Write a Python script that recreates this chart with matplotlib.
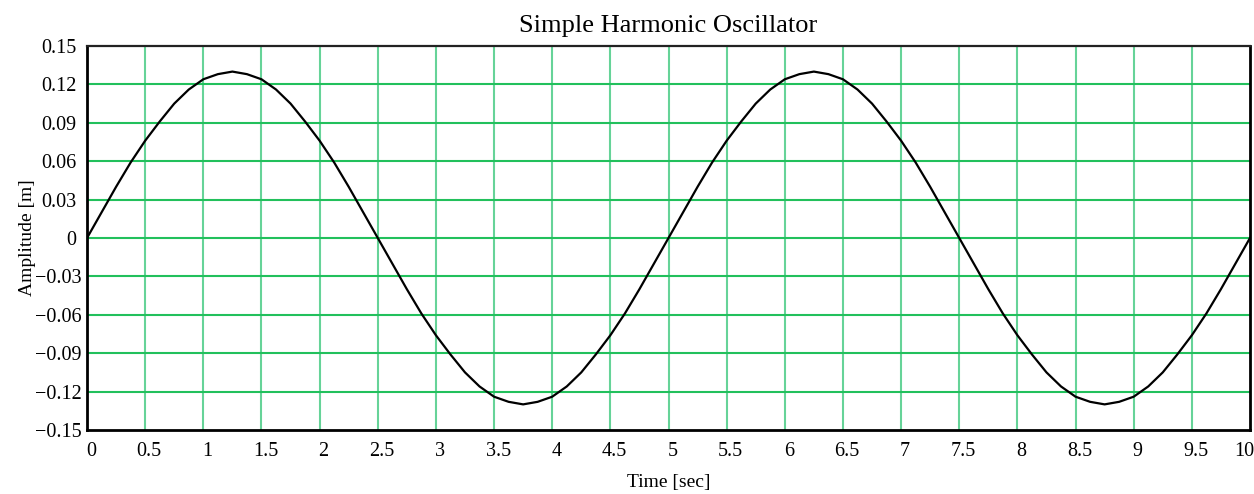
import matplotlib
matplotlib.use("Agg")
import matplotlib.pyplot as plt
import matplotlib.transforms as mtransforms
import numpy as np

# displacement every 0.125 s (0 .. 10 s)
time_s = np.linspace(0, 10, 81)
amplitude_m = [
    0.000, 0.020, 0.040, 0.059, 0.076, 0.091, 0.105, 0.116, 0.124, 0.128,
    0.130, 0.128, 0.124, 0.116, 0.105, 0.091, 0.076, 0.059, 0.040, 0.020,
    0.000, -0.020, -0.040, -0.059, -0.076, -0.091, -0.105, -0.116, -0.124, -0.128,
    -0.130, -0.128, -0.124, -0.116, -0.105, -0.091, -0.076, -0.059, -0.040, -0.020,
    0.000, 0.020, 0.040, 0.059, 0.076, 0.091, 0.105, 0.116, 0.124, 0.128,
    0.130, 0.128, 0.124, 0.116, 0.105, 0.091, 0.076, 0.059, 0.040, 0.020,
    0.000, -0.020, -0.040, -0.059, -0.076, -0.091, -0.105, -0.116, -0.124, -0.128,
    -0.130, -0.128, -0.124, -0.116, -0.105, -0.091, -0.076, -0.059, -0.040, -0.020,
    0.000,
]

x_ticks = [0, 0.5, 1, 1.5, 2, 2.5, 3, 3.5, 4, 4.5, 5, 5.5, 6, 6.5, 7, 7.5, 8, 8.5, 9, 9.5, 10]
y_ticks = [-0.15, -0.12, -0.09, -0.06, -0.03, 0, 0.03, 0.06, 0.09, 0.12, 0.15]

plt.rcParams['font.family'] = ['Liberation Serif', 'DejaVu Serif']

fig = plt.figure(figsize=(12.54, 4.94), dpi=100)
ax = fig.add_axes([0.0694, 0.1296, 0.9274, 0.7773])

# grid: vertical lines paler than horizontal ones
for xv in x_ticks[1:-1]:
    ax.axvline(xv, color="#66d398", linewidth=1.5, zorder=1)
for yv in y_ticks[1:-1]:
    ax.axhline(yv, color="#22c05c", linewidth=1.5, zorder=1)

ax.plot(time_s, amplitude_m, color="black", linewidth=1.6, zorder=3)

ax.set_xlim(0, 10)
ax.set_ylim(-0.15, 0.15)
ax.set_xticks(x_ticks)
ax.set_xticklabels([f"{v:g}" for v in x_ticks])
ax.set_yticks(y_ticks)
ax.set_yticklabels([("\u2212" + f"{abs(v):g}") if v < 0 else f"{v:g}" for v in y_ticks])
ax.tick_params(axis="both", length=0, labelsize=14.5)
ax.tick_params(axis="x", pad=9)
ax.tick_params(axis="y", pad=4)

# x tick labels sit a little to the right of their grid lines,
# the last one is pulled back inside the figure
xlabels = ax.get_xticklabels()
for i, lab in enumerate(xlabels):
    dx = -6 if i == len(xlabels) - 1 else 4
    shift = mtransforms.ScaledTranslation(dx / 100, 0, fig.dpi_scale_trans)
    lab.set_transform(lab.get_transform() + shift)

# non-negative y labels end a few pixels further left than the negative ones
for v, lab in zip(y_ticks, ax.get_yticklabels()):
    if v >= 0:
        shift = mtransforms.ScaledTranslation(-5 / 100, 0, fig.dpi_scale_trans)
        lab.set_transform(lab.get_transform() + shift)

for side in ["left", "bottom", "right"]:
    ax.spines[side].set_linewidth(2)
    ax.spines[side].set_color("black")
ax.spines["top"].set_linewidth(1.6)
ax.spines["top"].set_color("#222222")

ax.set_title("Simple Harmonic Oscillator", fontsize=19, pad=10)
ax.set_xlabel("Time [sec]", fontsize=14, labelpad=9)
ax.set_ylabel("Amplitude [m]", fontsize=14, labelpad=-1)

fig.savefig("out.png", dpi=100)
